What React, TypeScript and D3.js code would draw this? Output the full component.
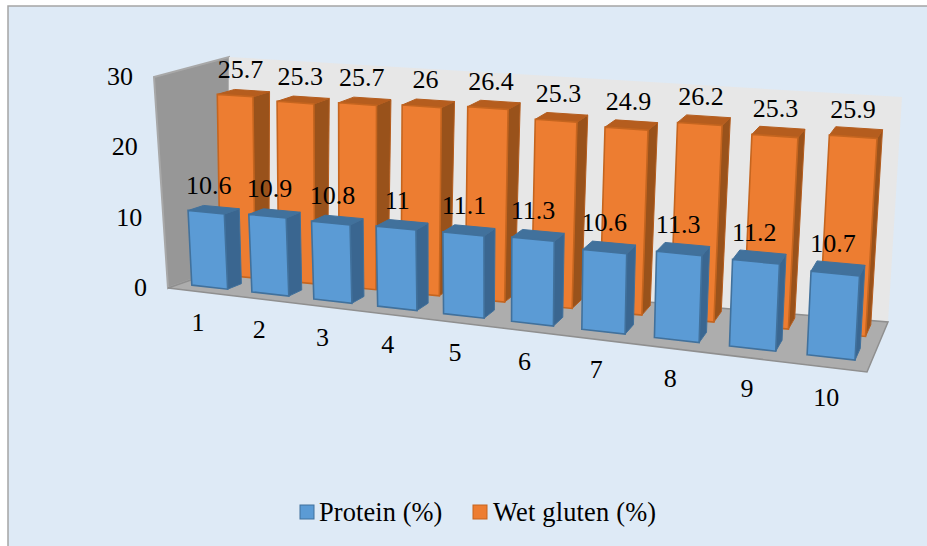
import * as d3 from "d3";

const categories = ["1", "2", "3", "4", "5", "6", "7", "8", "9", "10"];
const protein = [10.6, 10.9, 10.8, 11, 11.1, 11.3, 10.6, 11.3, 11.2, 10.7];
const wetGluten = [25.7, 25.3, 25.7, 26, 26.4, 25.3, 24.9, 26.2, 25.3, 25.9];
const valueTicks = [0, 10, 20, 30];

const FONT = "'Liberation Serif', 'Times New Roman', serif";

// corners of the 3d box on screen: front-left, front-right, back-right, back-left
const floorQuad = [[168, 288], [867, 372], [888, 322], [228, 267]];
const topQuad = [[154, 77], [880, 132], [902, 97], [229, 57]];

// bars get wider to the right, this stretches u the same way on every plane
const PERSPECTIVE = 1.175;
const warp = (u) => u / (u + PERSPECTIVE * (1 - u));

const lerp = (a, b, t) => [a[0] + (b[0] - a[0]) * t, a[1] + (b[1] - a[1]) * t];

const onQuad = (q, u, w) => lerp(lerp(q[0], q[1], u), lerp(q[3], q[2], u), w);

const yScale = d3.scaleLinear().domain([0, 30]).range([0, 1]);
const xScale = d3.scaleBand().domain(categories).range([0, 1]).paddingInner(0.4).paddingOuter(0.2);
const line = d3.line();

// u across, v up, w into the page
const project = (u, v, w) => {
  const uw = warp(u);
  return lerp(onQuad(floorQuad, uw, w), onQuad(topQuad, uw, w), v);
};

const quad = (pts) => line(pts) + "Z";

const series = [
  { name: "Wet gluten (%)", values: wetGluten, w0: 0.68, w1: 0.92, front: "#ED7D31", stroke: "#C5651F", side: "#99521B", top: "#B55D1E", labelDx: -3, labelDy: -15 },
  { name: "Protein (%)", values: protein, w0: 0.2, w1: 0.44, front: "#5B9BD5", stroke: "#41719C", side: "#3A6690", top: "#41719C", labelDx: -5, labelDy: -16 },
];

const Bar = ({ cat, value, s }) => {
  const u0 = xScale(cat);
  const u1 = u0 + xScale.bandwidth();
  const v = yScale(value);
  const frontFace = [project(u0, 0, s.w0), project(u1, 0, s.w0), project(u1, v, s.w0), project(u0, v, s.w0)];
  const sideFace = [project(u1, 0, s.w0), project(u1, 0, s.w1), project(u1, v, s.w1), project(u1, v, s.w0)];
  const topFace = [project(u0, v, s.w0), project(u1, v, s.w0), project(u1, v, s.w1), project(u0, v, s.w1)];
  return (
    <g>
      <path d={quad(sideFace)} fill={s.side} stroke={s.top} strokeWidth={1} />
      <path d={quad(topFace)} fill={s.top} stroke={s.top} strokeWidth={1} />
      <path d={quad(frontFace)} fill={s.front} stroke={s.stroke} strokeWidth={1.6} />
    </g>
  );
};

export default function App() {
  const P = project;
  return (
    <svg width={927} height={546} style={{ position: "fixed", left: 0, top: 0, background: "#fff" }} fontFamily={FONT}>
      <rect x={8} y={6} width={925} height={546} fill="#DEEAF6" stroke="#A5A5A5" strokeWidth={1.5} />

      {/* walls and floor */}
      <path d={quad([P(0, 0, 0), P(0, 0, 1), P(0, 1, 1), P(0, 1, 0)])} fill="#979797" stroke="#A8A8A8" strokeWidth={2} />
      <path d={quad([P(0, 0, 1), P(1, 0, 1), P(1, 1, 1), P(0, 1, 1)])} fill="#E7E7E7" />
      <path d={quad([P(0, 0, 0), P(1, 0, 0), P(1, 0, 1), P(0, 0, 1)])} fill="#ADADAD" stroke="#8F8F8F" strokeWidth={1.5} />

      {series.map((s) => (
        <g key={s.name}>
          {categories.map((c, i) => (
            <Bar key={c} cat={c} value={s.values[i]} s={s} />
          ))}
        </g>
      ))}

      {series.map((s) => (
        <g key={s.name} fontSize={26} textAnchor="middle" fill="#000">
          {categories.map((c, i) => {
            const [x, y] = P(xScale(c) + xScale.bandwidth() * 0.5, yScale(s.values[i]), (s.w0 + s.w1) / 2);
            return (
              <text key={c} x={x + s.labelDx} y={y + s.labelDy}>
                {s.values[i]}
              </text>
            );
          })}
        </g>
      ))}

      <g fontSize={26} textAnchor="end" fill="#000">
        {valueTicks.map((t) => {
          const [x, y] = P(0, yScale(t), 0);
          return (
            <text key={t} x={x - 21} y={y + 8}>
              {t}
            </text>
          );
        })}
      </g>

      <g fontSize={26} textAnchor="middle" fill="#000">
        {categories.map((c) => {
          const [x, y] = P(xScale(c) + xScale.bandwidth() / 2, 0, 0);
          return (
            <text key={c} x={x} y={y + 39}>
              {c}
            </text>
          );
        })}
      </g>

      <g fontSize={26.4} fill="#000">
        <rect x={300} y={505} width={14} height={14} fill="#5B9BD5" stroke="#41719C" strokeWidth={1} />
        <text x={319} y={521} letterSpacing={0.1}>Protein (%)</text>
        <rect x={473} y={505} width={14} height={14} fill="#ED7D31" stroke="#C5651F" strokeWidth={1} />
        <text x={493} y={521} letterSpacing={0.2}>Wet gluten (%)</text>
      </g>
    </svg>
  );
}
